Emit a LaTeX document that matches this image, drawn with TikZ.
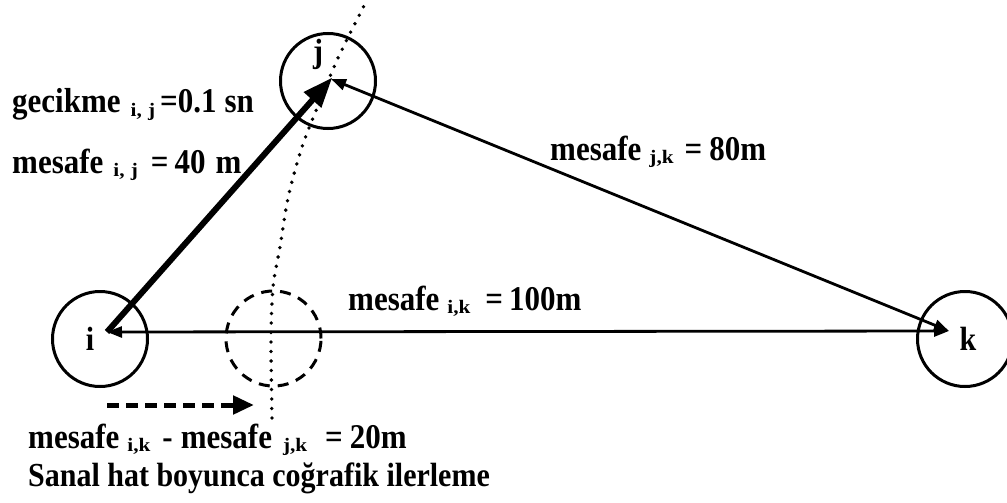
\documentclass[tikz,border=0pt]{standalone}
\usepackage{fontspec}
\usepackage{graphicx}
\setmainfont{Liberation Serif}
\usetikzlibrary{arrows.meta}
\newcommand{\sbx}[1]{\raisebox{-0.1em}{\scalebox{1.25}[1]{\fontsize{17}{17}\selectfont #1}}}
\newcommand{\tallt}[1]{\scalebox{1}[1.12]{#1}}
\newcommand{\gap}[1]{\hspace*{#1pt}}
\begin{document}
\begin{tikzpicture}[x=1pt,y=-1pt,
  nodecirc/.style={circle,draw,line width=3pt,minimum size=95pt,inner sep=0pt},
  virtcirc/.style={circle,draw,line width=3pt,minimum size=95pt,inner sep=0pt,dash pattern=on 11pt off 8pt},
  lbl/.style={font=\fontsize{31}{36}\selectfont\bfseries,inner sep=0pt,anchor=base west},
  lblsm/.style={font=\fontsize{30}{36}\selectfont\bfseries,inner sep=0pt,anchor=base west},
  letter/.style={font=\fontsize{30}{36}\selectfont\bfseries,inner sep=0pt,anchor=base},
  thickarrow/.style={line width=6pt,-{Triangle[length=30pt,width=22pt]},shorten >=-2pt},
  thinarrow/.style={line width=2.8pt,{Triangle[length=15pt,width=11pt]}-{Triangle[length=15pt,width=11pt]}},
  movearrow/.style={line width=5pt,dash pattern=on 12pt off 7pt,-{Triangle[length=21pt,width=18pt]}},
  locus/.style={line width=3.8pt,line cap=round,dash pattern=on 0pt off 9.5pt}
]
\useasboundingbox (0,0) rectangle (1007,503);

% nodes
\node[nodecirc] (ni) at (100,339) {};
\node[nodecirc] (nj) at (328,81) {};
\node[nodecirc] (nk) at (965,339) {};
\node[virtcirc] (nv) at (273.5,338.5) {};

\node[letter] (li) at (90,350) {\tallt{i}};
\node[letter] (lj) at (318,63) {\tallt{j}};
\node[letter] (lk) at (968,350) {\tallt{k}};

% hub coordinates
\coordinate (ic) at (107,332);
\coordinate (jc) at (331,79);
\coordinate (kc) at (949,331);
\coordinate (ds) at (107,405);
\coordinate (de) at (254,405);

% locus (dotted)
\draw[locus] plot[smooth] coordinates {(272,418) (271,340) (273,287) (280,247) (288,198) (301,150) (315,113) (338,58) (367,0)};

% connectors
\draw[thinarrow] (ic) -- (kc);
\draw[thinarrow] (kc) -- (jc);
\draw[thickarrow] (ic) -- (jc);
\draw[movearrow] (ds) -- (de);

% labels
\node[lbl] (t1) at (12,113) {\tallt{gecikme\gap{10}\sbx{i,\hspace{5pt}j}\gap{5}=0.1\gap{8}sn}};
\node[lbl] (t2) at (12,173) {\tallt{mesafe\gap{10}\sbx{i,\hspace{5pt}j}\gap{13}=\gap{6}40\gap{10}m}};
\node[lbl] (t3) at (550,160) {\tallt{mesafe\gap{8}\sbx{j,k}\gap{11}=\gap{7}80m}};
\node[lbl] (t4) at (348,310) {\tallt{mesafe\gap{8}\sbx{i,k}\gap{15}=\gap{6}100m}};
\node[lbl] (t5) at (28,448) {\tallt{mesafe\gap{8}\sbx{i,k}\gap{12}-\gap{8}mesafe\gap{11}\sbx{j,k}\gap{18}=\gap{7}20m}};
\node[lblsm] (t6) at (28,486) {\tallt{Sanal hat boyunca coğrafik ilerleme}};
\end{tikzpicture}
\end{document}
